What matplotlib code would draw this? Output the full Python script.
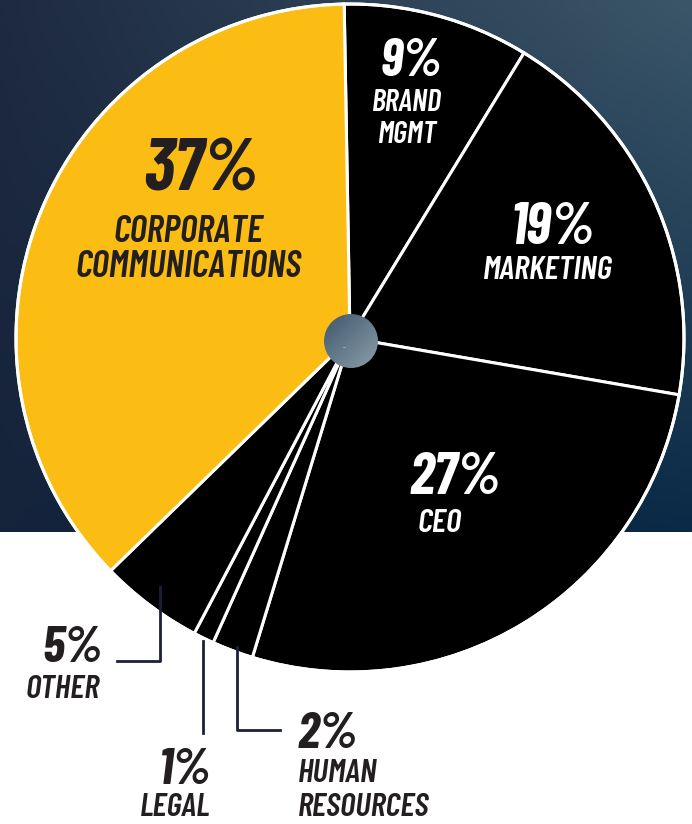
import numpy as np
import matplotlib
matplotlib.use("Agg")
import matplotlib.pyplot as plt
from matplotlib.patches import Circle
from matplotlib.colors import to_rgb

# Budget share by department
departments = ["BRAND\nMGMT", "MARKETING", "CEO", "HUMAN\nRESOURCES", "LEGAL", "OTHER",
               "CORPORATE\nCOMMUNICATIONS"]
shares = [9, 19, 27, 2, 1, 5, 37]
wedge_colors = ["#000000", "#000000", "#000000", "#000000", "#000000", "#000000", "#fbbd14"]

W, H = 692, 824
FONT = ["Barlow Condensed", "DejaVu Sans"]
DARK = "#231f20"
LEADER = "#1b2038"

fig = plt.figure(figsize=(W / 100, H / 100), dpi=100)
ax = fig.add_axes([0, 0, 1, 1])

# navy gradient backdrop over the upper part, white below
band_top, band_bottom = 0, 532
corners = {"tl": "#1e2a40", "tr": "#3b5669", "bl": "#15233b", "br": "#0a2a47"}
nx, ny = 80, 60
u = np.linspace(0, 1, nx)[None, :, None]
v = np.linspace(0, 1, ny)[:, None, None]
tl, tr, bl, br = (np.array(to_rgb(corners[k])) for k in ("tl", "tr", "bl", "br"))
grad = (1 - v) * ((1 - u) * tl + u * tr) + v * ((1 - u) * bl + u * br)
ax.imshow(grad, extent=[0, W, H - band_bottom, H - band_top], aspect="auto",
          interpolation="bicubic", zorder=0)

# pie in pixel coordinates (y measured from the bottom)
cx, cy, r = 350, H - 338, 334
wedges, _ = ax.pie(shares, colors=wedge_colors, startangle=91, counterclock=False,
                   center=(cx, cy), radius=r,
                   wedgeprops=dict(edgecolor="white", linewidth=2.2))
for w in wedges:
    w.set_zorder(2)
ax.add_patch(Circle((cx, cy), r, fill=False, edgecolor="white", linewidth=2.2, zorder=3))

# center hub with soft gradient
hub_r = 27
hub = Circle((cx + 1, cy - 3), hub_r, transform=ax.transData)
hg = np.linspace(0, 1, 50)
mix = (hg[None, :, None] + hg[:, None, None]) / 2
hub_img = (1 - mix) * np.array(to_rgb("#3e586e")) + mix * np.array(to_rgb("#8d9da8"))
im = ax.imshow(hub_img, extent=[cx + 1 - hub_r, cx + 1 + hub_r, cy - 3 - hub_r, cy - 3 + hub_r],
               interpolation="bicubic", zorder=4)
im.set_clip_path(hub)
ax.text(cx - 5, cy - 10, "--", color="white", fontsize=4, ha="center", va="center", zorder=5)

ax.set_xlim(0, W)
ax.set_ylim(0, H)
ax.set_aspect("auto")
ax.axis("off")


def label(x, y, text, size, color, ha="center", weight="bold"):
    ax.text(x, H - y, text, fontsize=size, color=color, ha=ha, va="center",
            family=FONT, weight=weight, style="italic", zorder=6)


def name(x, y, text, size, color, ha="center"):
    label(x, y, text, size, color, ha=ha, weight=600)


# labels inside the big wedges
label(411, 62, f"{shares[0]}%", 38, "white")
name(407, 103, "BRAND", 22, "white")
name(407, 135, "MGMT", 22, "white")

label(553, 228, f"{shares[1]}%", 42, "white")
name(548, 270, "MARKETING", 24, "white")

label(455, 478, f"{shares[2]}%", 42, "white")
name(440, 524, "CEO", 24, "white")

label(201, 171, f"{shares[6]}%", 53, DARK)
name(188, 232, "CORPORATE", 27, DARK)
name(188, 267, "COMMUNICATIONS", 27, DARK)

# small wedges get leader lines and outside labels
ax.plot([160, 160, 117], [H - 587, H - 661, H - 661], color=LEADER, lw=2, zorder=6)
ax.plot([203, 203], [H - 641, H - 733], color=LEADER, lw=2, zorder=6)
ax.plot([237, 237, 280], [H - 647, H - 730, H - 730], color=LEADER, lw=2, zorder=6)

label(102, 648, f"{shares[5]}%", 37, DARK, ha="right")
name(100, 689, "OTHER", 24, DARK, ha="right")

label(185, 770, f"{shares[4]}%", 37, DARK)
name(175, 808, "LEGAL", 24, DARK)

label(298, 735, f"{shares[3]}%", 37, DARK, ha="left")
name(298, 773, "HUMAN", 24, DARK, ha="left")
name(298, 808, "RESOURCES", 24, DARK, ha="left")

fig.savefig("out.png", dpi=100, facecolor="white")
